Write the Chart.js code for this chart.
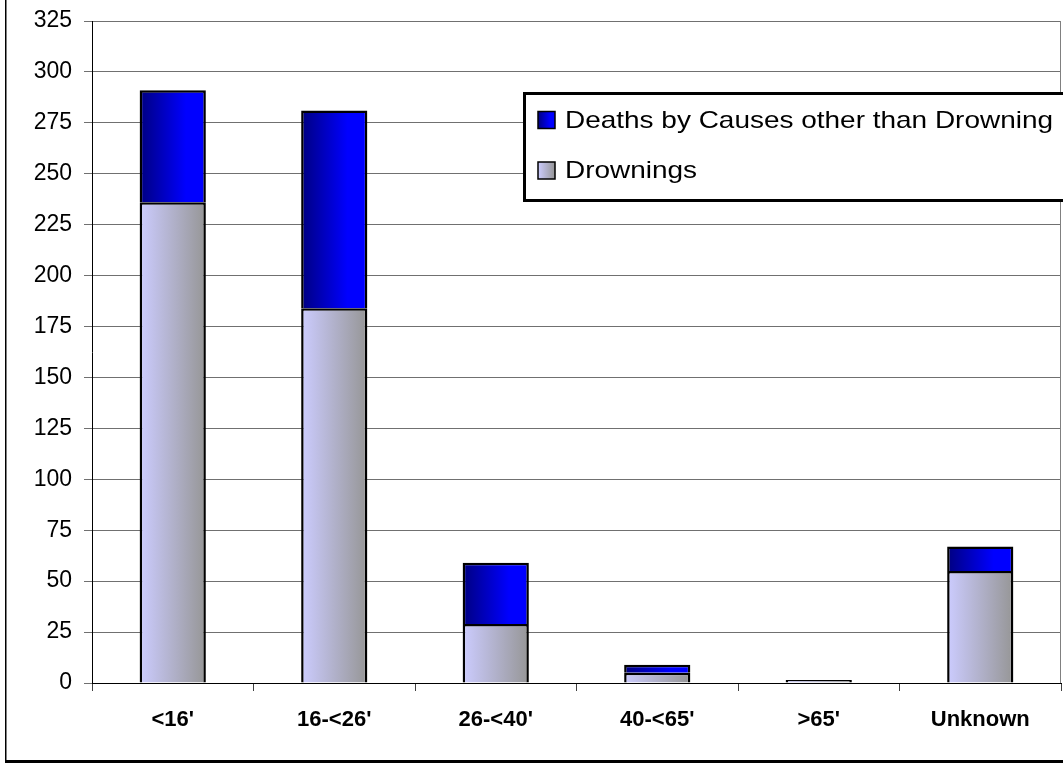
<!DOCTYPE html>
<html><head><meta charset="utf-8">
<script src="https://cdn.jsdelivr.net/npm/chart.js@4/dist/chart.umd.min.js"></script>
<style>html,body{margin:0;padding:0;background:#fff;}#wrap{width:1063px;height:765px;position:relative}</style>
</head><body><div id="wrap"><canvas id="c" width="1063" height="765"></canvas></div>
<script>
const categories = ["<16'", "16-<26'", "26-<40'", "40-<65'", ">65'", "Unknown"];
const drownings = [236, 184, 29, 5, 1, 55];
const otherDeaths = [55, 97, 30, 4, 0, 12];
const yMin = 0, yMax = 325, yStep = 25;
const seriesNames = ["Drownings", "Deaths by Causes other than Drowning"];

const FONT = 'Arial, "Liberation Sans", sans-serif';
const BAR_PCT = 0.41;
const drownStops = [[0, '#CCCCFF'], [1, '#969696']];
const otherStops = [[0, '#000080'], [0.7, '#0000FF'], [1, '#0000FF']];

function barGradient(c, stops, fallback) {
  const chart = c.chart;
  const xs = chart.scales && chart.scales.x;
  if (!chart.chartArea || !xs || c.dataIndex === undefined) return fallback;
  const cx = xs.getPixelForValue(c.dataIndex);
  const w = xs.width / categories.length * BAR_PCT;
  const g = chart.ctx.createLinearGradient(cx - w / 2, 0, cx + w / 2, 0);
  stops.forEach(s => g.addColorStop(s[0], s[1]));
  return g;
}

const framePlugin = {
  id: 'frame',
  beforeDraw(chart) {
    const ctx = chart.ctx;
    ctx.save();
    ctx.fillStyle = '#fff';
    ctx.fillRect(0, 0, chart.width, chart.height);
    ctx.fillStyle = '#000';
    ctx.fillRect(5, 0, 1.5, 762);
    ctx.fillRect(5, 760, chart.width, 3);
    ctx.restore();
  },
  beforeDatasetsDraw(chart) {
    const a = chart.chartArea, ctx = chart.ctx;
    ctx.save();
    ctx.strokeStyle = '#808080';
    ctx.lineWidth = 1;
    ctx.beginPath();
    ctx.moveTo(a.right - 0.5, a.top);
    ctx.lineTo(a.right - 0.5, a.bottom);
    ctx.stroke();
    ctx.restore();
  }
};

const legendPlugin = {
  id: 'boxLegend',
  afterDraw(chart) {
    const ctx = chart.ctx;
    const x0 = 524.5, y0 = 93.5, w = 600, h = 107;
    ctx.save();
    ctx.fillStyle = '#fff';
    ctx.fillRect(x0, y0, w, h);
    ctx.strokeStyle = '#000';
    ctx.lineWidth = 3;
    ctx.strokeRect(x0, y0, w, h);
    const items = [
      {label: chart.data.datasets[1].label, stops: otherStops, y: 120},
      {label: chart.data.datasets[0].label, stops: drownStops, y: 170.5}
    ];
    items.forEach(it => {
      const sx = 538, sy = it.y - 8.5, s = 17;
      const g = ctx.createLinearGradient(sx, 0, sx + s, 0);
      it.stops.forEach(st => g.addColorStop(st[0], st[1]));
      ctx.fillStyle = g;
      ctx.fillRect(sx, sy, s, s);
      ctx.lineWidth = 1.5;
      ctx.strokeStyle = '#000';
      ctx.strokeRect(sx, sy, s, s);
      ctx.save();
      ctx.translate(565, it.y + 1);
      ctx.scale(1.165, 1);
      ctx.fillStyle = '#000';
      ctx.font = '24px ' + FONT;
      ctx.textBaseline = 'middle';
      ctx.textAlign = 'left';
      ctx.fillText(it.label, 0, 0);
      ctx.restore();
    });
    ctx.restore();
  }
};

new Chart(document.getElementById('c'), {
  type: 'bar',
  data: {
    labels: categories,
    datasets: [
      {label: seriesNames[0], data: drownings,
       backgroundColor: c => barGradient(c, drownStops, '#B4B4E0'),
       borderColor: '#000', borderWidth: 2.5, minBarLength: 3},
      {label: seriesNames[1], data: otherDeaths,
       backgroundColor: c => barGradient(c, otherStops, '#0000CC'),
       borderColor: '#000', borderWidth: 2.5}
    ]
  },
  options: {
    responsive: false,
    animation: false,
    devicePixelRatio: 1,
    categoryPercentage: 1,
    barPercentage: BAR_PCT,
    layout: {padding: {top: 21, right: 2, left: 0, bottom: 0}},
    plugins: {legend: {display: false}, tooltip: {enabled: false}},
    scales: {
      x: {
        stacked: true,
        grid: {drawOnChartArea: false, drawTicks: true, tickLength: 8, color: '#404040', offset: true},
        border: {color: '#000', width: 1},
        ticks: {font: {family: FONT, size: 22, weight: 'bold'}, color: '#000', padding: 16, maxRotation: 0, autoSkip: false},
        afterFit: s => { s.height = 82; }
      },
      y: {
        stacked: true,
        min: yMin, max: yMax,
        ticks: {stepSize: yStep, font: {family: FONT, size: 23}, color: '#000', padding: 12},
        grid: {color: '#707070', tickLength: 8},
        border: {color: '#000', width: 1},
        afterFit: s => { s.width = 92; s.paddingTop = 0; s.paddingBottom = 0; }
      }
    }
  },
  plugins: [framePlugin, legendPlugin]
});
</script>
</body></html>
